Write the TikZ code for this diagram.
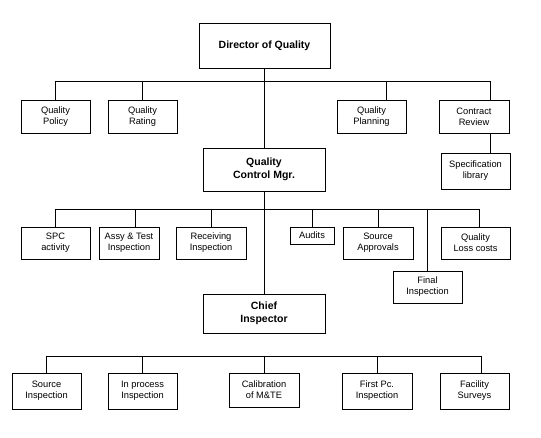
\documentclass[tikz,border=0pt]{standalone}
\usepackage{fontspec}
\setmainfont{Liberation Sans}
\begin{document}
\begin{tikzpicture}[x=1pt,y=-1pt,
  line width=0.9pt,
  box/.style={draw,line width=0.9pt,inner sep=0pt,align=center,font=\fontsize{9.3}{11}\selectfont},
  head/.style={box,font=\fontsize{10.5}{13.5}\selectfont\bfseries}]
\useasboundingbox[fill=white] (0,0) rectangle (541,438);
% top
\node[head,minimum width=131,minimum height=45] (dir) at (264.5,45.5) {Director of Quality};
\node[box,minimum width=69,minimum height=33] (policy) at (55.5,116.5) {Quality\\Policy};
\node[box,minimum width=69,minimum height=33] (rating) at (142.5,116.5) {Quality\\Rating};
\node[box,minimum width=69,minimum height=33] (planning) at (371.5,116.5) {Quality\\Planning};
\node[box,minimum width=70,minimum height=33] (contract) at (474,116.5) {Contract\\Review};
\node[head,minimum width=122,minimum height=43] (qcm) at (264,169.5) {Quality\\Control Mgr.};
\node[box,minimum width=69,minimum height=36] (spec) at (475.5,171) {Specification\\library};
% middle
\node[box,minimum width=69,minimum height=32] (spc) at (55.5,243) {SPC\\activity};
\node[box,minimum width=60,minimum height=32] (assy) at (129,243) {Assy \& Test\\Inspection};
\node[box,minimum width=70,minimum height=32] (recv) at (211,243) {Receiving\\Inspection};
\node[box,minimum width=44,minimum height=17] (audits) at (312,235.5) {Audits};
\node[box,minimum width=70,minimum height=32] (srcappr) at (378,243) {Source\\Approvals};
\node[box,minimum width=69,minimum height=32] (final) at (427.5,287) {Final\\Inspection};
\node[box,minimum width=69,minimum height=32] (loss) at (475.5,243) {Quality\\Loss costs};
\node[head,minimum width=122,minimum height=39] (chief) at (264,313.5) {Chief\\Inspector};
% bottom
\node[box,minimum width=69,minimum height=36] (srcinsp) at (46.5,391) {Source\\Inspection};
\node[box,minimum width=69,minimum height=36] (inproc) at (142.5,391) {In process\\Inspection};
\node[box,minimum width=70,minimum height=34] (calib) at (264,390) {Calibration\\of M\&TE};
\node[box,minimum width=70,minimum height=36] (firstpc) at (377,391) {First Pc.\\Inspection};
\node[box,minimum width=69,minimum height=36] (facility) at (474.5,391) {Facility\\Surveys};
% bus coordinates
\coordinate (b1) at (0,81);
\coordinate (b2) at (0,209);
\coordinate (b3) at (0,356);
\coordinate (pl) at ([xshift=14.5]planning.north);
\coordinate (cr) at ([xshift=16]contract.north);
\coordinate (as) at ([xshift=6]assy.north);
\coordinate (lc) at ([xshift=3.5]loss.north);
\coordinate (fa) at ([xshift=6.5]facility.north);
% trunk
\draw (dir.south -| qcm.north) -- (qcm.north);
\draw (qcm.south) -- (chief.north);
% level 1
\draw (b1 -| policy.north) -- (b1 -| cr);
\foreach \n in {policy,rating} \draw (b1 -| \n.north) -- (\n.north);
\draw (b1 -| pl) -- (pl);
\draw (b1 -| cr) -- (cr);
\draw ([xshift=16]contract.south) -- ([xshift=14.5]spec.north);
% level 2
\draw (b2 -| spc.north) -- (b2 -| lc);
\foreach \n in {spc,recv,audits,srcappr,final} \draw (b2 -| \n.north) -- (\n.north);
\draw (b2 -| as) -- (as);
\draw (b2 -| lc) -- (lc);
% level 3
\draw (b3 -| srcinsp.north) -- (b3 -| fa);
\foreach \n in {srcinsp,inproc,calib,firstpc} \draw (b3 -| \n.north) -- (\n.north);
\draw (b3 -| fa) -- (fa);
\end{tikzpicture}
\end{document}
